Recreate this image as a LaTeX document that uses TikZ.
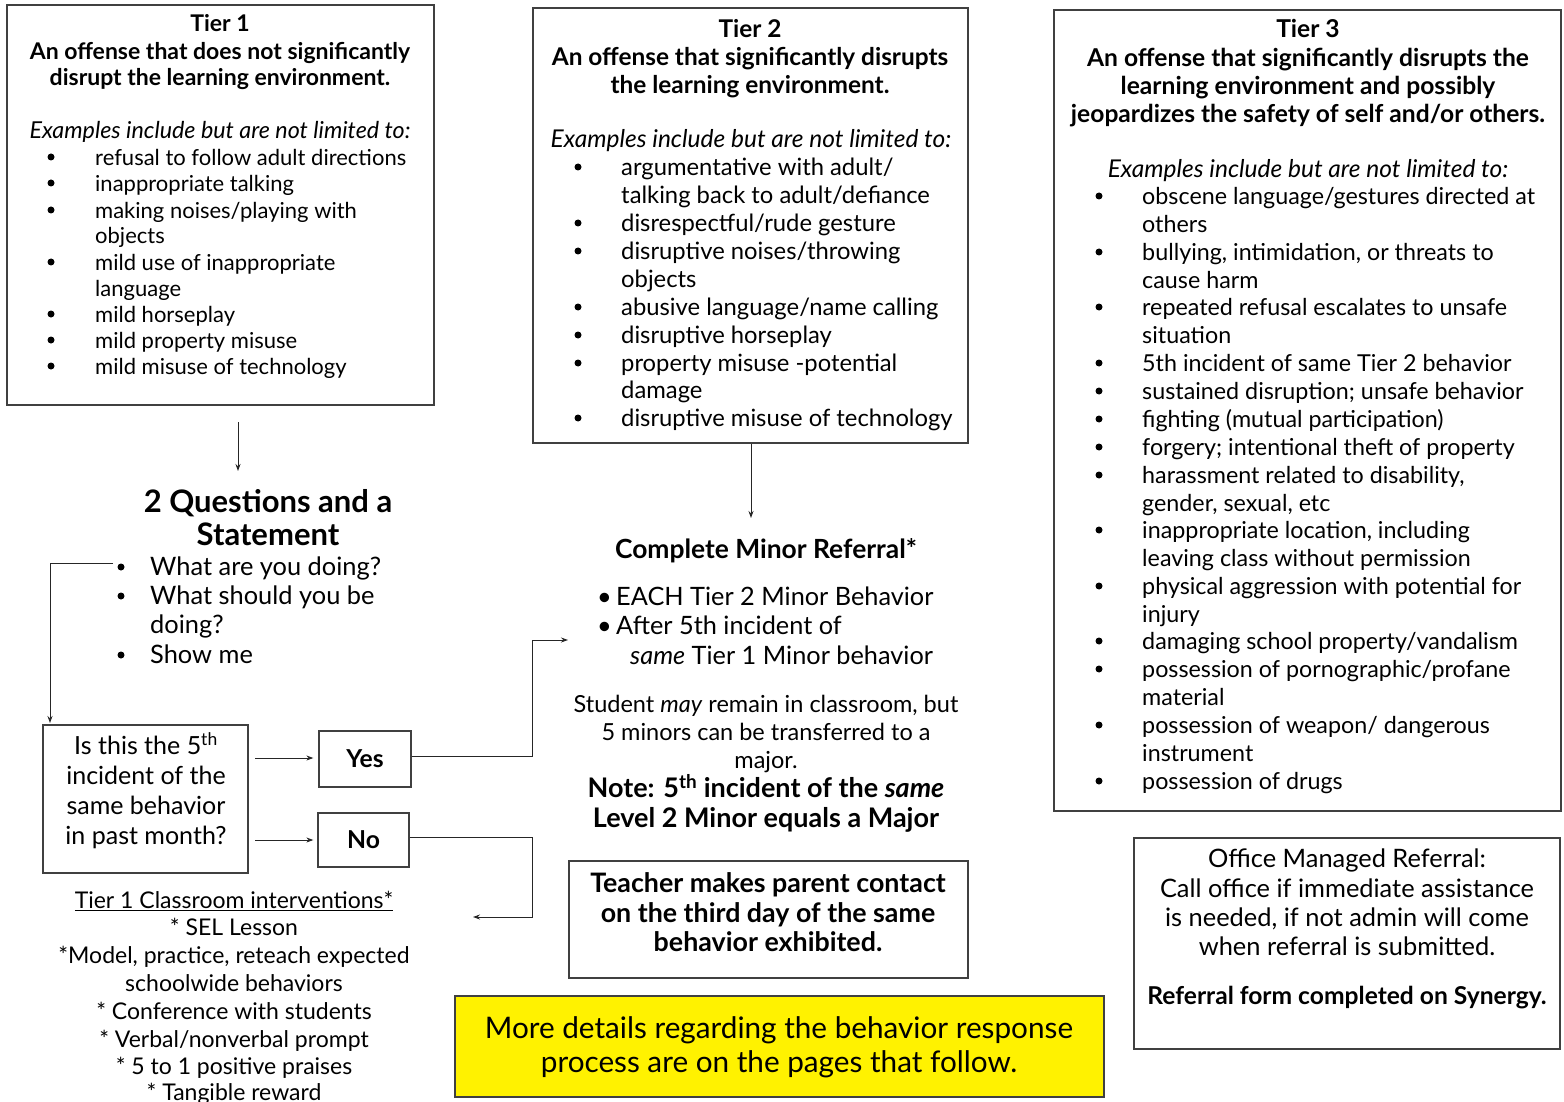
\documentclass[tikz,border=0pt]{standalone}
\usepackage{fontspec}
\setmainfont{Lato}
\usetikzlibrary{arrows.meta}
\newcommand\fs[1]{\fontsize{#1}{#1}\selectfont}
\tikzset{
  box/.style={draw=black!75, line width=1.3pt, inner sep=0pt},
  lt/.style={anchor=mid west, inner sep=0pt, yshift=-6pt},
  ct/.style={anchor=mid, inner sep=0pt, yshift=-6pt},
  bt/.style={anchor=mid, inner sep=0pt, yshift=-7pt},
  big/.style={yshift=-1pt},
  arr/.style={draw=black!85, line width=0.9pt, -{Stealth[length=7pt,width=5pt]}},
  dot/.style={circle, fill=black, inner sep=0pt, minimum size=7pt},
}
\begin{document}
\begin{tikzpicture}[x=1pt,y=-1pt]
\useasboundingbox[fill=white] (0,0) rectangle (1564,1102);

% ---------- Tier 1 ----------
\node[box, minimum width=427pt, minimum height=400pt] (t1) at (220.5,205) {};
\node[bt, font=\fs{23}\bfseries] (t1a) at (220,22) {Tier 1};
\node[bt, font=\fs{23}\bfseries] (t1b) at (220,50) {An offense that does not significantly};
\node[bt, font=\fs{23}\bfseries] (t1c) at (220,76) {disrupt the learning environment.};
\node[ct, font=\fs{23.3}\itshape] (t1d) at (220,130) {Examples include but are not limited to:};
\foreach \y [count=\i] in {157,183,210,262,314,340,366}
  \node[dot] (t1dot\i) at (51,\y) {};
\foreach \y/\t [count=\i] in {157/{refusal to follow adult directions},183/{inappropriate talking},210/{making noises/playing with},235/{objects},262/{mild use of inappropriate},288/{language},314/{mild horseplay},340/{mild property misuse},366/{mild misuse of technology}}
  \node[lt, font=\fs{22}] (t1t\i) at (95,\y) {\t};

% ---------- Tier 2 ----------
\node[box, minimum width=435pt, minimum height=435pt] (t2) at (750.5,225.5) {};
\node[bt, font=\fs{24.4}\bfseries] (t2a) at (750,28) {Tier 2};
\node[bt, font=\fs{24.4}\bfseries] (t2b) at (750,56) {An offense that significantly disrupts};
\node[bt, font=\fs{24.4}\bfseries] (t2c) at (750,84) {the learning environment.};
\node[ct, font=\fs{24.5}\itshape] (t2d) at (751,139) {Examples include but are not limited to:};
\foreach \y [count=\i] in {167,223,251,307,335,363,418}
  \node[dot] (t2dot\i) at (578,\y) {};
\foreach \y/\t [count=\i] in {167/{argumentative with adult/},195/{talking back to adult/defiance},223/{disrespectful/rude gesture},251/{disruptive noises/throwing},279/{objects},307/{abusive language/name calling},335/{disruptive horseplay},363/{property misuse -potential},390/{damage},418/{disruptive misuse of technology}}
  \node[lt, font=\fs{23.8}] (t2t\i) at (621,\y) {\t};

% ---------- Tier 3 ----------
\node[box, minimum width=507pt, minimum height=801pt] (t3) at (1307.5,410.5) {};
\node[bt, font=\fs{24.6}\bfseries] (t3a) at (1308,28) {Tier 3};
\node[bt, font=\fs{24.6}\bfseries] (t3b) at (1308,57) {An offense that significantly disrupts the};
\node[bt, font=\fs{24.6}\bfseries] (t3c) at (1308,85) {learning environment and possibly};
\node[bt, font=\fs{24.6}\bfseries] (t3d) at (1308,113) {jeopardizes the safety of self and/or others.};
\node[ct, font=\fs{24.5}\itshape] (t3e) at (1308,169) {Examples include but are not limited to:};
\foreach \y [count=\i] in {196,252,307,363,391,419,447,475,530,586,641,669,725,781}
  \node[dot] (t3dot\i) at (1099,\y) {};
\foreach \y/\t [count=\i] in {196/{obscene language/gestures directed at},224/{others},252/{bullying, intimidation, or threats to},280/{cause harm},307/{repeated refusal escalates to unsafe},335/{situation},363/{5th incident of same Tier 2 behavior},391/{sustained disruption; unsafe behavior},419/{fighting (mutual participation)},447/{forgery; intentional theft of property},475/{harassment related to disability,},503/{gender, sexual, etc},530/{inappropriate location, including},558/{leaving class without permission},586/{physical aggression with potential for},614/{injury},641/{damaging school property/vandalism},669/{possession of pornographic/profane},697/{material},725/{possession of weapon/ dangerous},753/{instrument},781/{possession of drugs}}
  \node[lt, font=\fs{23.3}] (t3t\i) at (1142,\y) {\t};

% ---------- 2 Questions and a Statement ----------
\node[bt, big, font=\fs{31}\bfseries] (q2a) at (268,502) {2 Questions and a};
\node[bt, big, font=\fs{31}\bfseries] (q2b) at (268,535) {Statement};
\foreach \y [count=\i] in {567,596,655}
  \node[dot] (qdot\i) at (121,\y) {};
\foreach \y/\t [count=\i] in {567/{What are you doing?},596/{What should you be},625/{doing?},655/{Show me}}
  \node[lt, font=\fs{25.4}] (qt\i) at (150,\y) {\t};

% ---------- Question box, Yes / No ----------
\node[box, minimum width=205pt, minimum height=148pt] (qb) at (145.5,799) {};
\foreach \y/\t [count=\i] in {746/{Is this the 5\textsuperscript{th}},776/{incident of the},806/{same behavior},836/{in past month?}}
  \node[ct, font=\fs{25}] (qbt\i) at (146,\y) {\t};
\node[box, minimum width=92pt, minimum height=56pt, font=\fs{24.7}\bfseries] (yes) at (365,759) {Yes};
\node[box, minimum width=91pt, minimum height=54pt, font=\fs{24.7}\bfseries] (no) at (363.5,840) {No};

% ---------- Tier 1 interventions ----------
\node[ct, font=\fs{23}] (iv0) at (234,900) {\underline{Tier 1 Classroom interventions*}};
\foreach \y/\t [count=\i] in {927/{* SEL Lesson},955/{*Model, practice, reteach expected},983/{schoolwide behaviors},1011/{* Conference with students},1039/{* Verbal/nonverbal prompt},1066/{* 5 to 1 positive praises},1092/{* Tangible reward}}
  \node[ct, font=\fs{23}] (iv\i) at (234,\y) {\t};

% ---------- Complete Minor Referral ----------
\node[bt, big, font=\fs{26.4}\bfseries] (cm0) at (766,548) {Complete Minor Referral*};
\node[lt, font=\fs{25.3}] (cmb1) at (597,597) {\textbullet};
\node[lt, font=\fs{25.3}] (cmb2) at (597,626) {\textbullet};
\node[lt, font=\fs{25.3}] (cm1) at (616,597) {EACH Tier 2 Minor Behavior};
\node[lt, font=\fs{25.3}] (cm2) at (616,626) {After 5th incident of};
\node[lt, font=\fs{25.3}] (cm3) at (630,656) {\textit{same} Tier 1 Minor behavior};
\node[ct, font=\fs{23.5}] (cm4) at (766,704) {Student \textit{may} remain in classroom, but};
\node[ct, font=\fs{23.5}] (cm5) at (766,732) {5 minors can be transferred to a};
\node[ct, font=\fs{23.5}] (cm6) at (766,760) {major.};
\node[bt, font=\fs{27}\bfseries] (cm7) at (766,788) {Note: 5\textsuperscript{th} incident of the \textit{same}};
\node[bt, font=\fs{27}\bfseries] (cm8) at (766,818) {Level 2 Minor equals a Major};

% ---------- Teacher box ----------
\node[box, minimum width=399pt, minimum height=117pt] (tb) at (768.5,919.5) {};
\foreach \y/\t [count=\i] in {883/{Teacher makes parent contact},913/{on the third day of the same},942/{behavior exhibited.}}
  \node[bt, font=\fs{26.8}\bfseries] (tbt\i) at (768,\y) {\t};

% ---------- Yellow note ----------
\node[box, fill=yellow, minimum width=649pt, minimum height=101pt] (yb) at (779.5,1046.5) {};
\node[ct, big, font=\fs{29.7}] (yb1) at (779,1029) {More details regarding the behavior response};
\node[ct, big, font=\fs{29.7}] (yb2) at (779,1063) {process are on the pages that follow.};

% ---------- Office box ----------
\node[box, minimum width=426pt, minimum height=211pt] (ob) at (1347,943.5) {};
\foreach \y/\t [count=\i] in {859/{Office Managed Referral:},889/{Call office if immediate assistance},918/{is needed, if not admin will come},947/{when referral is submitted.}}
  \node[ct, font=\fs{25.4}] (obt\i) at (1347,\y) {\t};
\node[bt, font=\fs{24.6}\bfseries] (obt5) at (1347,995) {Referral form completed on Synergy.};

% ---------- Connectors ----------
\coordinate (a1s) at (238,422);
\coordinate (a1e) at (238,471);
\draw[arr] (a1s) -- (a1e);
\coordinate (l1s) at (113,563);
\draw[arr] (l1s) -- (50,563) -- (50,723);
\coordinate (qy) at (255,758);
\coordinate (qn) at (255,840);
\draw[arr] (qy) -- ([xshift=-5pt]yes.west |- qy);
\draw[arr] (qn) -- ([xshift=-4pt]no.west |- qn);
\coordinate (ye) at (568,640);
\draw[arr] (yes.east |- 0,756) -- (532,756) -- (532,640) -- (ye);
\coordinate (ne) at (473,917);
\draw[arr] (no.east |- 0,837) -- (532,837) -- (532,917) -- (ne);
\coordinate (a2e) at (751,518);
\draw[arr] (t2.south -| a2e) -- (a2e);
\end{tikzpicture}
\end{document}
